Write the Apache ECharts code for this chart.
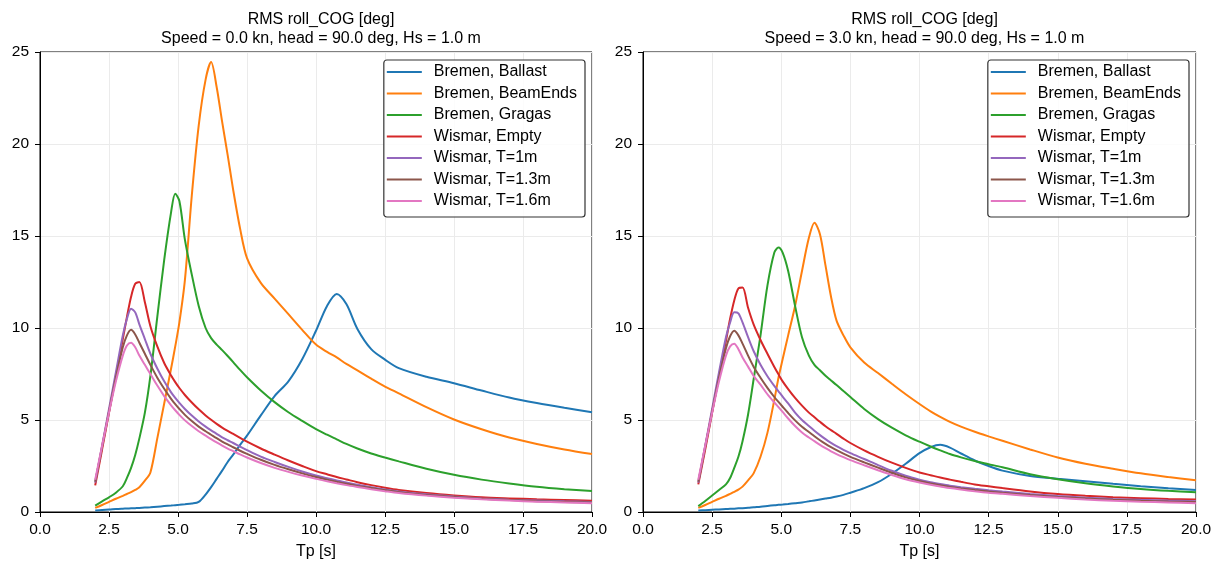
<!DOCTYPE html>
<html>
<head>
<meta charset="utf-8">
<title>RMS roll_COG</title>
<script src="https://cdn.jsdelivr.net/npm/echarts@6/dist/echarts.min.js"></script>
<style>
  html, body { margin: 0; padding: 0; background: #fff; }
  #chart { width: 1215px; height: 565px; }
</style>
</head>
<body>
<div id="chart"></div>
<script>
// Peak period Tp [s] at which every case is sampled
const tp = [2, 2.25, 2.5, 2.75, 3, 3.15, 3.3, 3.45, 3.6, 3.8,
            4, 4.25, 4.5, 4.75, 4.9, 5.05, 5.25, 5.5, 5.75, 6,
            6.2, 6.4, 6.6, 6.8, 7, 7.25, 7.5, 8, 8.5, 9,
            9.5, 10, 10.4, 10.75, 11.1, 11.5, 12, 12.5, 13, 14,
            15, 16, 17, 18, 19, 20];

const caseNames = ['Bremen, Ballast', 'Bremen, BeamEnds', 'Bremen, Gragas',
                   'Wismar, Empty', 'Wismar, T=1m', 'Wismar, T=1.3m', 'Wismar, T=1.6m'];

const xTicks = [0, 2.5, 5, 7.5, 10, 12.5, 15, 17.5, 20];
const yTicks = [0, 5, 10, 15, 20, 25];

const panelTitles = [
  'RMS roll_COG [deg]\nSpeed = 0.0 kn, head = 90.0 deg, Hs = 1.0 m',
  'RMS roll_COG [deg]\nSpeed = 3.0 kn, head = 90.0 deg, Hs = 1.0 m'
];

// Speed = 0.0 kn
const ballast0 = [0.08, 0.11, 0.13, 0.16, 0.18, 0.19, 0.2, 0.21, 0.22, 0.24,
  0.26, 0.29, 0.32, 0.35, 0.37, 0.39, 0.42, 0.46, 0.55, 0.95,
  1.35, 1.8, 2.25, 2.72, 3.12, 3.65, 4.15, 5.25, 6.3, 7.1,
  8.3, 9.85, 11.2, 11.85, 11.3, 9.95, 8.85, 8.28, 7.82, 7.35,
  7.0, 6.6, 6.22, 5.92, 5.66, 5.42];
const beam0 = [0.22, 0.38, 0.55, 0.72, 0.88, 0.98, 1.08, 1.2, 1.35, 1.7,
  2.15, 4.0, 5.9, 7.8, 9.0, 10.3, 12.6, 17.2, 21.0, 23.5,
  24.45, 23.1, 21.2, 19.4, 17.5, 15.4, 13.8, 12.45, 11.6, 10.75,
  9.9, 9.1, 8.7, 8.4, 8.05, 7.7, 7.25, 6.82, 6.45, 5.7,
  5.03, 4.5, 4.05, 3.7, 3.4, 3.15];
const gragas0 = [0.35, 0.58, 0.8, 1.05, 1.4, 1.85, 2.4, 3.1, 4.0, 5.4,
  7.4, 10.6, 13.7, 16.3, 17.3, 16.9, 14.8, 12.9, 11.2, 10.0,
  9.45, 9.1, 8.8, 8.48, 8.15, 7.72, 7.32, 6.6, 5.97, 5.42,
  4.95, 4.5, 4.2, 3.95, 3.7, 3.45, 3.18, 2.96, 2.75, 2.35,
  2.02, 1.76, 1.55, 1.37, 1.24, 1.14];
const empty0 = [1.45, 3.4, 5.4, 7.4, 9.4, 10.6, 11.7, 12.4, 12.5, 11.4,
  10.1, 9.0, 8.1, 7.42, 7.06, 6.74, 6.36, 5.95, 5.58, 5.25,
  5.01, 4.79, 4.59, 4.41, 4.24, 4.03, 3.82, 3.45, 3.12, 2.8,
  2.5, 2.22, 2.05, 1.9, 1.77, 1.62, 1.46, 1.32, 1.2, 1.03,
  0.9, 0.8, 0.74, 0.69, 0.65, 0.61];
const t1m0 = [1.6, 3.6, 5.6, 7.6, 9.6, 10.5, 11.05, 10.85, 10.2, 9.4,
  8.6, 7.8, 7.1, 6.5, 6.2, 5.93, 5.6, 5.24, 4.92, 4.64,
  4.44, 4.25, 4.06, 3.9, 3.75, 3.55, 3.36, 3.01, 2.72, 2.45,
  2.2, 1.98, 1.84, 1.72, 1.6, 1.48, 1.35, 1.22, 1.12, 0.96,
  0.84, 0.74, 0.67, 0.62, 0.58, 0.55];
const t13m0 = [1.65, 3.55, 5.45, 7.3, 8.95, 9.6, 9.9, 9.65, 9.2, 8.6,
  8.0, 7.3, 6.7, 6.15, 5.86, 5.6, 5.28, 4.94, 4.64, 4.39,
  4.2, 4.01, 3.83, 3.67, 3.52, 3.33, 3.16, 2.84, 2.56, 2.32,
  2.1, 1.9, 1.76, 1.64, 1.53, 1.42, 1.3, 1.18, 1.08, 0.93,
  0.81, 0.72, 0.65, 0.59, 0.55, 0.51];
const t16m0 = [1.75, 3.6, 5.4, 7.1, 8.5, 9.05, 9.2, 8.95, 8.5, 8.0,
  7.5, 6.87, 6.3, 5.8, 5.53, 5.28, 4.98, 4.67, 4.39, 4.15,
  3.96, 3.78, 3.61, 3.45, 3.31, 3.13, 2.96, 2.66, 2.4, 2.18,
  1.98, 1.8, 1.67, 1.56, 1.46, 1.36, 1.24, 1.13, 1.03, 0.89,
  0.78, 0.69, 0.62, 0.56, 0.52, 0.48];

// Speed = 3.0 kn
const ballast3 = [0.08, 0.1, 0.12, 0.14, 0.16, 0.17, 0.18, 0.2, 0.21, 0.23,
  0.26, 0.29, 0.33, 0.37, 0.39, 0.41, 0.44, 0.48, 0.52, 0.58,
  0.63, 0.68, 0.73, 0.78, 0.84, 0.93, 1.05, 1.3, 1.62, 2.08,
  2.62, 3.2, 3.52, 3.65, 3.5, 3.18, 2.8, 2.5, 2.25, 1.96,
  1.81, 1.67, 1.53, 1.4, 1.29, 1.19];
const beam3 = [0.22, 0.38, 0.55, 0.72, 0.88, 0.98, 1.1, 1.22, 1.38, 1.72,
  2.1, 3.0, 4.3, 6.1, 7.3, 8.3, 9.6, 11.2, 13.1, 14.9,
  15.72, 15.1, 13.4, 11.7, 10.4, 9.6, 8.95, 8.12, 7.55, 6.97,
  6.4, 5.87, 5.47, 5.17, 4.9, 4.64, 4.36, 4.11, 3.87, 3.4,
  2.96, 2.62, 2.35, 2.1, 1.9, 1.72];
const gragas3 = [0.32, 0.6, 0.9, 1.2, 1.5, 1.85, 2.4, 3.0, 3.85, 5.3,
  7.2, 9.6, 12.3, 14.1, 14.38, 14.1, 13.1, 11.2, 9.5, 8.5,
  8.0, 7.7, 7.4, 7.15, 6.9, 6.57, 6.25, 5.6, 5.05, 4.58,
  4.17, 3.82, 3.56, 3.35, 3.15, 2.97, 2.77, 2.6, 2.43, 2.05,
  1.78, 1.56, 1.39, 1.25, 1.15, 1.08];
const empty3 = [1.5, 3.4, 5.4, 7.4, 9.3, 10.5, 11.5, 12.15, 12.2, 11.1,
  10.2, 9.35, 8.6, 7.88, 7.48, 7.1, 6.68, 6.2, 5.78, 5.4,
  5.15, 4.9, 4.66, 4.45, 4.25, 3.99, 3.75, 3.35, 3.0, 2.68,
  2.4, 2.15, 2.0, 1.87, 1.76, 1.64, 1.5, 1.4, 1.3, 1.12,
  0.98, 0.88, 0.8, 0.75, 0.71, 0.68];
const t1m3 = [1.6, 3.6, 5.6, 7.6, 9.5, 10.3, 10.85, 10.8, 10.3, 9.5,
  8.75, 8.0, 7.38, 6.85, 6.56, 6.27, 5.9, 5.4, 5.0, 4.68,
  4.42, 4.18, 3.96, 3.76, 3.58, 3.38, 3.2, 2.88, 2.55, 2.24,
  1.97, 1.76, 1.62, 1.52, 1.43, 1.35, 1.26, 1.18, 1.11, 0.98,
  0.87, 0.78, 0.71, 0.66, 0.62, 0.59];
const t13m3 = [1.65, 3.55, 5.45, 7.3, 8.9, 9.55, 9.85, 9.6, 9.15, 8.5,
  7.9, 7.3, 6.75, 6.25, 5.98, 5.72, 5.38, 4.98, 4.63, 4.35,
  4.12, 3.9, 3.7, 3.52, 3.36, 3.17, 3.0, 2.7, 2.41, 2.13,
  1.88, 1.68, 1.55, 1.45, 1.36, 1.28, 1.19, 1.11, 1.04, 0.92,
  0.82, 0.73, 0.66, 0.61, 0.57, 0.54];
const t16m3 = [1.75, 3.6, 5.4, 7.1, 8.5, 9.0, 9.15, 8.85, 8.4, 7.9,
  7.4, 6.92, 6.4, 5.95, 5.7, 5.44, 5.08, 4.67, 4.32, 4.05,
  3.85, 3.65, 3.47, 3.3, 3.15, 2.98, 2.82, 2.54, 2.27, 2.01,
  1.78, 1.6, 1.48, 1.39, 1.3, 1.22, 1.13, 1.05, 0.99, 0.87,
  0.77, 0.68, 0.61, 0.56, 0.52, 0.48];

const panelData = [
  [ballast0, beam0, gragas0, empty0, t1m0, t13m0, t16m0],
  [ballast3, beam3, gragas3, empty3, t1m3, t13m3, t16m3]
];

const colors = ['#1f77b4', '#ff7f0e', '#2ca02c', '#d62728', '#9467bd', '#8c564b', '#e377c2'];
const FONT = '"Liberation Sans", Arial, Helvetica, sans-serif';

const gridBoxes = [
  { left: 40, top: 52, width: 552, height: 464 },
  { left: 643, top: 52, width: 553, height: 464 }
];

const chart = echarts.init(document.getElementById('chart'), null, { renderer: 'canvas' });

const option = {
  animation: false,
  backgroundColor: '#fff',
  color: colors,
  textStyle: { fontFamily: FONT },
  title: panelTitles.map((t, i) => ({
    text: t,
    left: gridBoxes[i].left + gridBoxes[i].width / 2,
    textAlign: 'center',
    top: 5,
    textStyle: { fontSize: 16, fontWeight: 'normal', color: '#000', lineHeight: 19, fontFamily: FONT }
  })),
  legend: [630, 26].map(r => ({
    data: caseNames,
    orient: 'vertical',
    right: r,
    top: 60,
    icon: 'rect',
    itemWidth: 35,
    itemHeight: 2,
    itemGap: 3.5,
    padding: [3, 8, 7, 3],
    borderColor: '#333',
    borderWidth: 1.2,
    borderRadius: 3,
    backgroundColor: 'rgba(255,255,255,0.85)',
    selectedMode: false,
    textStyle: { fontSize: 16, color: '#000', lineHeight: 18, padding: [0, 0, 0, 7], fontFamily: FONT }
  })),
  grid: gridBoxes.map(g => ({
    left: g.left, top: g.top, width: g.width, height: g.height,
    show: true, borderColor: '#000', borderWidth: 1, backgroundColor: 'transparent',
    containLabel: false
  })),
  xAxis: gridBoxes.map((g, i) => ({
    type: 'value',
    gridIndex: i,
    min: xTicks[0],
    max: xTicks[xTicks.length - 1],
    interval: xTicks[1] - xTicks[0],
    name: 'Tp [s]',
    nameLocation: 'middle',
    nameGap: 32,
    nameTextStyle: { fontSize: 16, color: '#000', fontFamily: FONT },
    axisLine: { show: true, onZero: false, lineStyle: { color: '#000', width: 1 } },
    axisTick: { show: true, inside: false, length: 5, lineStyle: { color: '#000', width: 1 } },
    axisLabel: { fontSize: 15.5, color: '#000', margin: 10, fontFamily: FONT,
                 formatter: v => v.toFixed(1), showMinLabel: true, showMaxLabel: true },
    splitLine: { show: true, lineStyle: { color: '#ebebeb', width: 1 } }
  })),
  yAxis: gridBoxes.map((g, i) => ({
    type: 'value',
    gridIndex: i,
    min: yTicks[0],
    max: yTicks[yTicks.length - 1],
    interval: yTicks[1] - yTicks[0],
    axisLine: { show: true, onZero: false, lineStyle: { color: '#000', width: 1 } },
    axisTick: { show: true, inside: false, length: 5, lineStyle: { color: '#000', width: 1 } },
    axisLabel: { fontSize: 15.5, color: '#000', margin: 11, fontFamily: FONT },
    splitLine: { show: true, lineStyle: { color: '#ebebeb', width: 1 } }
  })),
  series: []
};

panelData.forEach((cases, p) => {
  cases.forEach((vals, k) => {
    option.series.push({
      type: 'line',
      name: caseNames[k],
      xAxisIndex: p,
      yAxisIndex: p,
      data: tp.map((t, j) => [t, vals[j]]),
      showSymbol: false,
      symbol: 'none',
      smooth: 0.3,
      lineStyle: { width: 2, color: colors[k] },
      itemStyle: { color: colors[k] },
      emphasis: { disabled: true }
    });
  });
});

chart.setOption(option);
</script>
</body>
</html>
